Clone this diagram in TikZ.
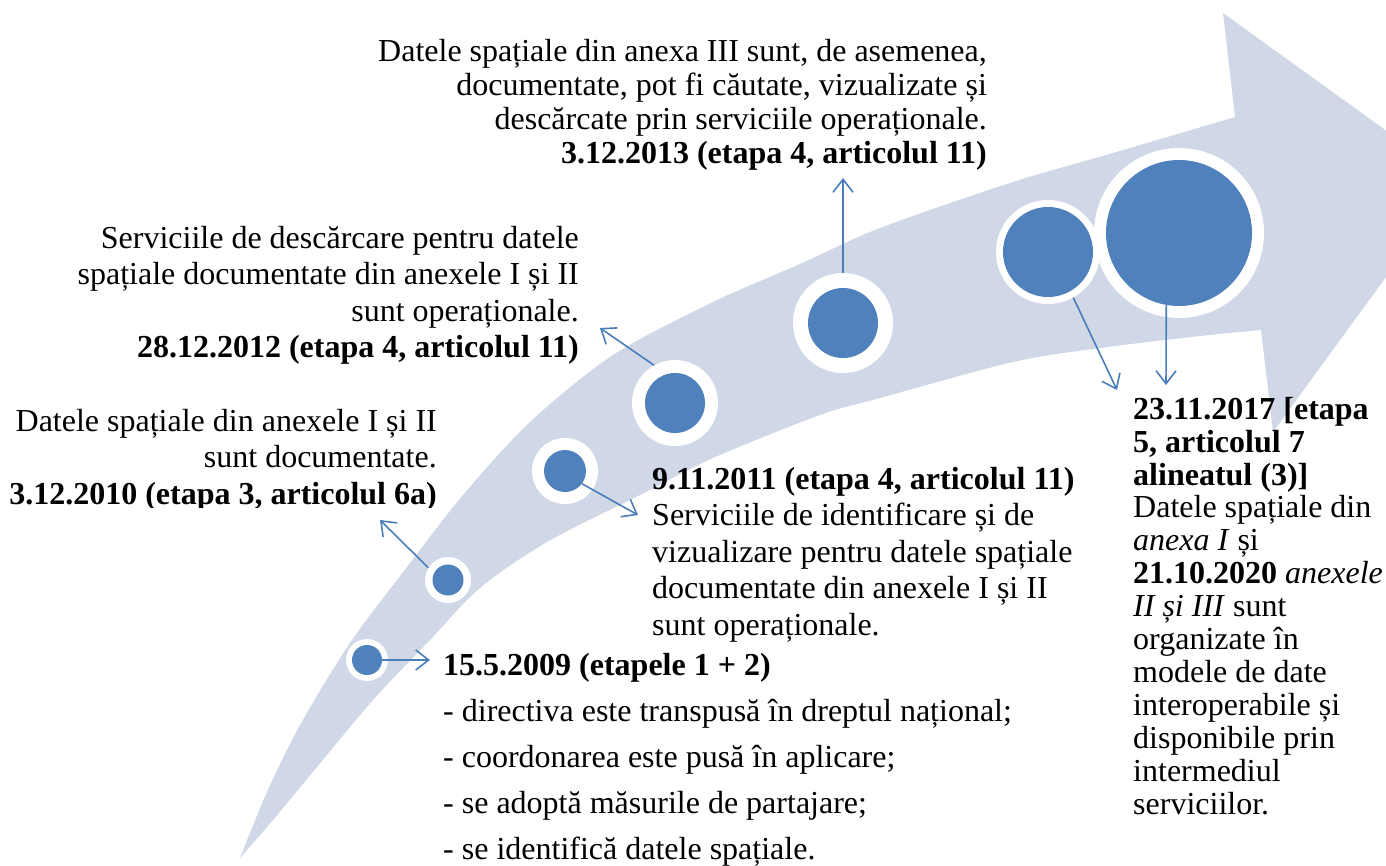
\documentclass[tikz,border=0pt]{standalone}
\usepackage{fontspec}
\setmainfont{Liberation Serif}
\usetikzlibrary{arrows.meta}
\definecolor{bandc}{RGB}{208,216,232}
\definecolor{dotc}{RGB}{79,129,189}
\definecolor{arrc}{RGB}{74,126,187}
\begin{document}
\begin{tikzpicture}[x=1pt,y=-1pt,
  band/.style={fill=bandc},
  ring/.style={circle,fill=white,inner sep=0pt,draw=none},
  dot/.style={circle,fill=dotc,inner sep=0pt,draw=none},
  conn/.style={draw=arrc,line width=1.6pt,-{Straight Barb[length=13pt,width=20pt]}},
  txt/.style={inner sep=0pt,text=black},
  txtA/.style={txt,font=\fontsize{32}{34}\selectfont},
  txtB/.style={txt,font=\fontsize{32}{36.5}\selectfont},
  txtC/.style={txt,font=\fontsize{32}{32.9}\selectfont}]
\useasboundingbox (0,0) rectangle (1386,865);
\clip (0,0) rectangle (1386,865);
% curved arrow band
\fill[band] plot[smooth,tension=0.5] coordinates {(240,858) (267,792) (300,725) (350,643) (407,567) (463,495) (530,422) (613,355) (713,302) (800,264) (880,228) (1013,182) (1113,153) (1235,117)}
  -- (1223,13) -- (1456,181) -- (1273,432)
  -- plot[smooth,tension=0.5] coordinates {(1261,330) (1200,336) (1100,348) (1013,362) (880,398) (820,415) (713,458) (640,495) (547,542) (480,588) (430,640) (373,700) (317,767) (273,820) (240,858)} -- cycle;
% circles
\node[ring,minimum size=42pt] (w1) at (367,660) {};
\node[dot,minimum size=30pt] (b1) at (367,660) {};
\node[ring,minimum size=46pt] (w2) at (448,580) {};
\node[dot,minimum size=31pt] (b2) at (448,580) {};
\node[ring,minimum size=66pt] (w3) at (565,471) {};
\node[dot,minimum size=42pt] (b3) at (565,471) {};
\node[ring,minimum size=86pt] (w4) at (675,403) {};
\node[dot,minimum size=60pt] (b4) at (675,403) {};
\node[ring,minimum size=100pt] (w5) at (843,323) {};
\node[dot,minimum size=70pt] (b5) at (843,323) {};
\node[ring,minimum size=104pt] (w6) at (1048,252) {};
\node[dot,minimum size=90pt] (b6) at (1048,252) {};
\node[ring,minimum size=170pt] (w7) at (1179,233) {};
\node[dot,minimum size=146pt] (b7) at (1179,233) {};
% texts
\node[txtA,align=right,anchor=north east] (t1) at (987,37.2) {\strut Datele spațiale din anexa III sunt, de asemenea,\\documentate, pot fi căutate, vizualizate și\\descărcate prin serviciile operaționale.\\\textbf{3.12.2013 (etapa 4, articolul 11)}};
\node[txtB,align=right,anchor=north east] (t2) at (579,222.5) {\strut Serviciile de descărcare pentru datele\\spațiale documentate din anexele I și II\\sunt operaționale.\\\textbf{28.12.2012 (etapa 4, articolul 11)}};
\begin{scope}
\clip (0,0) rectangle (640,507);
\node[txtB,align=right,anchor=north east] (t3) at (437,405.5) {\strut Datele spațiale din anexele I și II\\sunt documentate.\\\textbf{3.12.2010 (etapa 3, articolul 6a)}};
\end{scope}
\node[txtB,align=left,anchor=north west] (t4) at (652,463.5) {\strut\textbf{9.11.2011 (etapa 4, articolul 11)}\\Serviciile de identificare și de\\vizualizare pentru datele spațiale\\documentate din anexele I și II\\sunt operaționale.};
\node[txtB,align=left,anchor=north west] (t5) at (443,649.5) {\strut\textbf{15.5.2009 (etapele 1 + 2)}\\[9.5pt]- directiva este transpusă în dreptul național;\\[9.5pt]- coordonarea este pusă în aplicare;\\[9.5pt]- se adoptă măsurile de partajare;\\[9.5pt]- se identifică datele spațiale.};
\node[txtC,align=left,anchor=north west] (t6) at (1133,396) {\strut\textbf{23.11.2017 [etapa}\\\textbf{5, articolul 7}\\\textbf{alineatul (3)]}\\Datele spațiale din\\\textit{anexa I} și\\\textbf{21.10.2020} \textit{anexele}\\\textit{II și III} sunt\\organizate în\\modele de date\\interoperabile și\\disponibile prin\\intermediul\\serviciilor.};
% connector ends
\coordinate (e1) at (430,660);
\coordinate (e2) at (380,520);
\coordinate (e3) at (638,515);
\coordinate (e4) at (600,328);
\coordinate (e5) at (843,178);
\coordinate (e6) at (1117,390);
\coordinate (e7) at (1166,385);
% connectors
\draw[conn] (b1.east) -- (e1);
\draw[conn] (w2.148) -- (e2);
\draw[conn] (b3.-37) -- (e3);
\draw[conn] (w4.119) -- (e4);
\draw[conn] (w5.north) -- (e5);
\draw[conn] (w6.-61) -- (e6);
\draw[conn] (b7.260) -- (e7);
\end{tikzpicture}
\end{document}
